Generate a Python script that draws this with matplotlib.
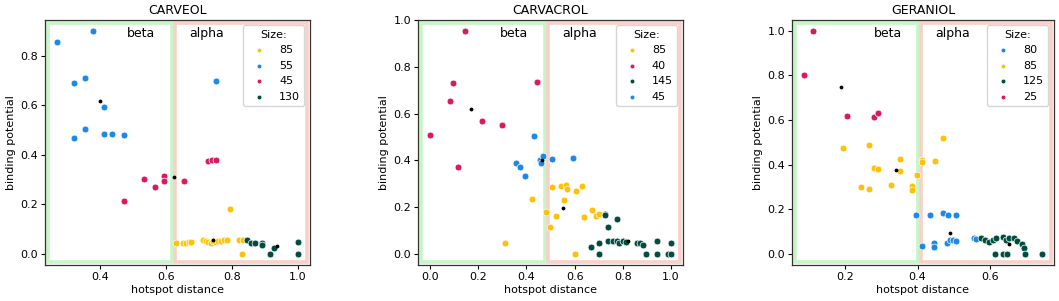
import matplotlib
matplotlib.use("Agg")
import matplotlib.pyplot as plt
from matplotlib.patches import Rectangle

# ---------------- data ----------------
titles = ["CARVEOL", "CARVACROL", "GERANIOL"]
splits = [0.622, 0.4825, 0.406]

BLUE, YELLOW, GREEN, RED = "#1E88E5", "#FFC107", "#004D40", "#D81B60"

# CARVEOL
carveol_labels = ["85", "55", "45", "130"]
carveol_colors = [YELLOW, BLUE, RED, GREEN]
carveol_x85 = [0.630, 0.652, 0.660, 0.668, 0.676, 0.712, 0.720, 0.728, 0.735, 0.742,
               0.750, 0.758, 0.765, 0.775, 0.785, 0.822, 0.832, 0.793, 0.830]
carveol_y85 = [0.043, 0.043, 0.045, 0.046, 0.047, 0.055, 0.052, 0.048, 0.045, 0.050,
               0.047, 0.050, 0.052, 0.055, 0.054, 0.057, 0.057, 0.182, 0.0]
carveol_x55 = [0.268, 0.378, 0.319, 0.354, 0.411, 0.319, 0.354, 0.411, 0.436, 0.472, 0.751]
carveol_y55 = [0.854, 0.901, 0.689, 0.708, 0.591, 0.469, 0.504, 0.484, 0.484, 0.481, 0.699]
carveol_x45 = [0.472, 0.532, 0.567, 0.592, 0.592, 0.653, 0.726, 0.739, 0.752]
carveol_y45 = [0.214, 0.304, 0.269, 0.315, 0.293, 0.293, 0.373, 0.377, 0.380]
carveol_x130 = [0.845, 0.857, 0.869, 0.890, 0.890, 0.915, 0.928, 1.0, 1.0]
carveol_y130 = [0.057, 0.045, 0.043, 0.045, 0.035, 0.0, 0.025, 0.046, 0.0]
carveol_cx = [0.400, 0.622, 0.742, 0.936]
carveol_cy = [0.619, 0.311, 0.055, 0.033]

# CARVACROL
carvacrol_labels = ["85", "40", "145", "45"]
carvacrol_colors = [YELLOW, RED, GREEN, BLUE]
carvacrol_x85 = [0.311, 0.424, 0.483, 0.497, 0.507, 0.521, 0.542, 0.556, 0.5625, 0.567,
                 0.601, 0.604, 0.629, 0.639, 0.674, 0.6875, 0.701]
carvacrol_y85 = [0.046, 0.233, 0.180, 0.117, 0.286, 0.160, 0.289, 0.229, 0.296, 0.279,
                 0.0, 0.268, 0.292, 0.157, 0.186, 0.160, 0.172]
carvacrol_x40 = [0.0, 0.146, 0.096, 0.081, 0.217, 0.300, 0.118, 0.446]
carvacrol_y40 = [0.51, 0.956, 0.731, 0.653, 0.570, 0.550, 0.374, 0.738]
carvacrol_x145 = [0.726, 0.726, 0.775, 0.739, 0.667, 0.703, 0.703, 0.739, 0.761, 0.775, 0.785,
                  0.799, 0.8125, 0.858, 0.872, 0.882, 0.896, 0.944, 0.944, 1.0, 0.989, 1.0]
carvacrol_y145 = [0.172, 0.165, 0.150, 0.117, 0.031, 0.046, 0.0, 0.054, 0.054, 0.057, 0.048,
                  0.054, 0.051, 0.046, 0.048, 0.040, 0.0, 0.054, 0.0, 0.047, 0.0, 0.0]
carvacrol_x45 = [0.431, 0.358, 0.372, 0.396, 0.456, 0.461, 0.469, 0.507, 0.594]
carvacrol_y45 = [0.503, 0.390, 0.370, 0.332, 0.404, 0.387, 0.418, 0.407, 0.411]
carvacrol_cx = [0.171, 0.464, 0.550, 0.822]
carvacrol_cy = [0.619, 0.400, 0.198, 0.054]

# GERANIOL
geraniol_labels = ["80", "85", "125", "25"]
geraniol_colors = [BLUE, YELLOW, GREEN, RED]
geraniol_x80 = [0.396, 0.435, 0.469, 0.484, 0.507, 0.412, 0.446, 0.446, 0.480, 0.489,
                0.498, 0.507, 0.555, 0.562]
geraniol_y80 = [0.172, 0.172, 0.183, 0.172, 0.172, 0.037, 0.048, 0.030, 0.048, 0.063,
                0.060, 0.058, 0.072, 0.066]
geraniol_x85 = [0.194, 0.267, 0.279, 0.291, 0.244, 0.267, 0.326, 0.351, 0.351, 0.385,
                0.385, 0.399, 0.413, 0.413, 0.447, 0.471]
geraniol_y85 = [0.472, 0.486, 0.385, 0.378, 0.298, 0.291, 0.310, 0.426, 0.372, 0.306,
                0.288, 0.352, 0.420, 0.412, 0.415, 0.520]
geraniol_x125 = [0.576, 0.587, 0.596, 0.607, 0.616, 0.634, 0.644, 0.653, 0.666, 0.675,
                 0.687, 0.694, 0.612, 0.634, 0.645, 0.696, 0.743]
geraniol_y125 = [0.072, 0.060, 0.052, 0.064, 0.069, 0.076, 0.060, 0.069, 0.069, 0.058,
                 0.046, 0.028, 0.0, 0.0, 0.0, 0.0, 0.0]
geraniol_x25 = [0.111, 0.087, 0.207, 0.279, 0.291]
geraniol_y25 = [1.0, 0.80, 0.619, 0.612, 0.633]
geraniol_cx = [0.189, 0.342, 0.489, 0.651]
geraniol_cy = [0.747, 0.375, 0.093, 0.046]

panels = [
    (carveol_labels, carveol_colors,
     [(carveol_x85, carveol_y85), (carveol_x55, carveol_y55),
      (carveol_x45, carveol_y45), (carveol_x130, carveol_y130)],
     (carveol_cx, carveol_cy)),
    (carvacrol_labels, carvacrol_colors,
     [(carvacrol_x85, carvacrol_y85), (carvacrol_x40, carvacrol_y40),
      (carvacrol_x145, carvacrol_y145), (carvacrol_x45, carvacrol_y45)],
     (carvacrol_cx, carvacrol_cy)),
    (geraniol_labels, geraniol_colors,
     [(geraniol_x80, geraniol_y80), (geraniol_x85, geraniol_y85),
      (geraniol_x125, geraniol_y125), (geraniol_x25, geraniol_y25)],
     (geraniol_cx, geraniol_cy)),
]

# ---------------- figure ----------------
W, H = 1059, 301
fig = plt.figure(figsize=(W / 100, H / 100), dpi=100)
ax_px = [(45, 265), (418, 265), (792, 262)]  # left, width in pixels
top_px, bot_px = 19.5, 265

for i, (labels, colors, groups, cent) in enumerate(panels):
    left, width = ax_px[i]
    ax = fig.add_axes([left / W, 1 - bot_px / H, width / W, (bot_px - top_px) / H])
    for lab, col, (xs, ys) in zip(labels, colors, groups):
        ax.scatter(xs, ys, s=24, c=col, edgecolors="white", linewidths=0.5,
                   label=lab, zorder=3)
    ax.scatter(cent[0], cent[1], s=3, c="black", zorder=4)

    x0, x1 = ax.get_xlim()
    frac = (splits[i] - x0) / (x1 - x0)
    wpx = width
    dx = 1.7 / wpx
    ins_x = 3.0 / wpx
    ins_top = 3.5 / (bot_px - top_px)
    ins_bot = 3.5 / (bot_px - top_px)
    ax.add_patch(Rectangle((ins_x, ins_bot), frac - dx - ins_x, 1 - ins_top - ins_bot,
                           transform=ax.transAxes, fill=False,
                           edgecolor="#c6f5c6", linewidth=2.6, zorder=1))
    ax.add_patch(Rectangle((frac + dx, ins_bot), 1 - ins_x - frac - dx, 1 - ins_top - ins_bot,
                           transform=ax.transAxes, fill=False,
                           edgecolor="#f9d0c8", linewidth=2.6, zorder=1))
    ax.text(frac - 18 / wpx, 0.944, "beta", transform=ax.transAxes,
            ha="right", va="center", fontsize=9)
    ax.text(frac + 16 / wpx, 0.944, "alpha", transform=ax.transAxes,
            ha="left", va="center", fontsize=9)

    ax.set_title(titles[i], fontsize=9, pad=4)
    ax.set_xlabel("hotspot distance", fontsize=8, labelpad=2)
    ax.set_ylabel("binding potential", fontsize=8, labelpad=3)
    ax.tick_params(labelsize=8, length=3, pad=2)
    for sp in ax.spines.values():
        sp.set_color("#333333")
        sp.set_linewidth(0.9)
    ax.legend(title="Size:", loc="upper right", fontsize=8, title_fontsize=8,
              markerscale=0.7, handletextpad=0.8, borderaxespad=0.5)

fig.savefig("out.png", dpi=100)
